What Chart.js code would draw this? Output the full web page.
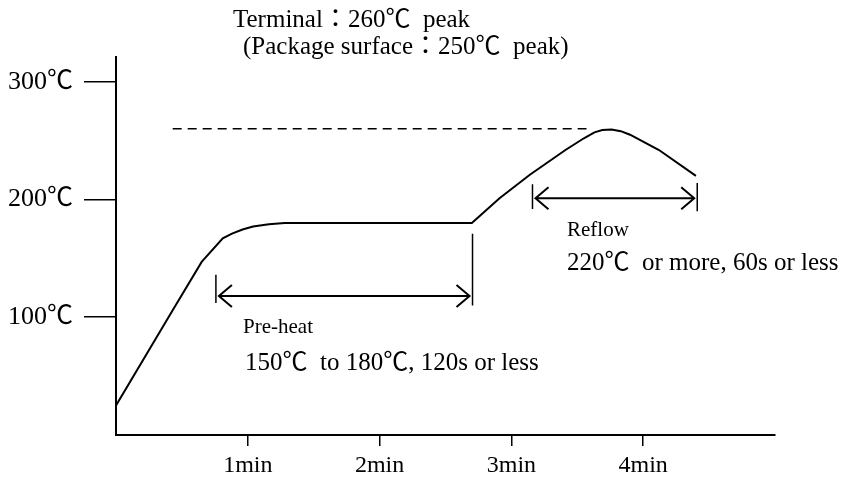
<!DOCTYPE html>
<html>
<head>
<meta charset="utf-8">
<script src="https://cdn.jsdelivr.net/npm/chart.js@4.4.1/dist/chart.umd.min.js"></script>
<style>
  body { margin: 0; background: #fff; }
  canvas { display: block; }
</style>
</head>
<body>
<canvas id="profileChart" width="844" height="497"></canvas>
<script>
// reflow profile, time in minutes, temperature in degrees C
const timeMin = [0, 0.43, 0.65, 0.81, 0.88, 0.96, 1.04, 1.16, 1.28, 2.70, 2.91, 3.14, 3.41, 3.55, 3.63, 3.69, 3.76, 3.83, 3.90, 4.12, 4.40];
const tempC   = [25, 106, 147, 167, 171, 174.5, 177, 179, 180, 180, 201, 221, 242, 252, 257, 259, 259.5, 258, 255, 242, 220];

// dashed peak line
const peakTime = [0.43, 3.57];
const peakTemp = [260, 260];

const xTickValues = [1, 2, 3, 4];
const xTickLabels = ["1min", "2min", "3min", "4min"];
const yTickValues = [100, 200, 300];
const yTickLabels = ["100℃", "200℃", "300℃"];

// arrows: start, end (min), level (C); bars: [top, bottom] (C) at each end
const preheatArrow = [0.758, 2.705, 118];
const preheatBars = [[136, 112], [171, 110]];
const reflowArrow = [3.16, 4.41, 201];
const reflowBars = [[213, 192], [214, 190]];

const serif = '"Liberation Serif", "Noto Sans CJK JP", serif';

function drawArrow(ctx, chart, arrow, bars) {
  const xs = chart.scales.x, ys = chart.scales.y;
  const x1 = xs.getPixelForValue(arrow[0]);
  const x2 = xs.getPixelForValue(arrow[1]);
  const y = ys.getPixelForValue(arrow[2]);
  ctx.save();
  ctx.strokeStyle = "#000";
  ctx.lineWidth = 2;
  ctx.beginPath();
  ctx.moveTo(x1 + 3, y);
  ctx.lineTo(x2 - 3, y);
  // heads
  ctx.moveTo(x1 + 16, y - 11);
  ctx.lineTo(x1 + 3, y);
  ctx.lineTo(x1 + 16, y + 11);
  ctx.moveTo(x2 - 16, y - 11);
  ctx.lineTo(x2 - 3, y);
  ctx.lineTo(x2 - 16, y + 11);
  ctx.stroke();
  ctx.lineWidth = 1.5;
  ctx.beginPath();
  ctx.moveTo(x1, ys.getPixelForValue(bars[0][0]));
  ctx.lineTo(x1, ys.getPixelForValue(bars[0][1]));
  ctx.moveTo(x2, ys.getPixelForValue(bars[1][0]));
  ctx.lineTo(x2, ys.getPixelForValue(bars[1][1]));
  ctx.stroke();
  ctx.restore();
}

const notes = {
  id: "notes",
  afterDatasetsDraw(chart) {
    const ctx = chart.ctx;
    drawArrow(ctx, chart, preheatArrow, preheatBars);
    drawArrow(ctx, chart, reflowArrow, reflowBars);

    ctx.save();
    ctx.fillStyle = "#000";
    ctx.textBaseline = "middle";
    ctx.textAlign = "left";
    ctx.font = "25px " + serif;
    ctx.fillText("Terminal：260℃  peak", 233, 20);
    ctx.fillText("(Package surface：250℃  peak)", 243, 47);
    ctx.font = "21px " + serif;
    ctx.fillText("Pre-heat", 243, 327);
    ctx.fillText("Reflow", 567, 230);
    ctx.font = "25px " + serif;
    ctx.fillText("150℃  to 180℃, 120s or less", 245, 363);
    ctx.fillText("220℃  or more, 60s or less", 567, 263);
    ctx.restore();
  }
};

const ctx = document.getElementById("profileChart").getContext("2d");

new Chart(ctx, {
  type: "line",
  data: {
    datasets: [
      {
        data: timeMin.map((t, i) => ({ x: t, y: tempC[i] })),
        borderColor: "#000",
        borderWidth: 2,
        pointRadius: 0,
        tension: 0,
        fill: false
      },
      {
        data: peakTime.map((t, i) => ({ x: t, y: peakTemp[i] })),
        borderColor: "#000",
        borderWidth: 1.5,
        borderDash: [9, 6],
        pointRadius: 0,
        fill: false
      }
    ]
  },
  options: {
    responsive: false,
    animation: false,
    layout: { padding: { top: 57, right: 69, left: 0, bottom: 0 } },
    plugins: {
      legend: { display: false },
      tooltip: { enabled: false }
    },
    scales: {
      x: {
        type: "linear",
        min: 0,
        max: 5,
        afterBuildTicks: scale => { scale.ticks = xTickValues.map(v => ({ value: v })); },
        afterFit: scale => { scale.height = 62; },
        border: { display: true, color: "#000", width: 2 },
        grid: { drawOnChartArea: false, drawTicks: true, tickLength: 11, color: "#000", lineWidth: 1.5 },
        ticks: {
          autoSkip: false,
          maxRotation: 0,
          padding: 5,
          color: "#000",
          font: { family: serif, size: 24 },
          callback: v => xTickLabels[xTickValues.indexOf(v)]
        }
      },
      y: {
        min: 0,
        max: 321,
        afterBuildTicks: scale => { scale.ticks = yTickValues.map(v => ({ value: v })); },
        afterFit: scale => { scale.width = 116; },
        border: { display: true, color: "#000", width: 2 },
        grid: { drawOnChartArea: false, drawTicks: true, tickLength: 32, color: "#000", lineWidth: 1.5 },
        ticks: {
          autoSkip: false,
          padding: 11,
          color: "#000",
          font: { family: serif, size: 26 },
          callback: v => yTickLabels[yTickValues.indexOf(v)]
        }
      }
    }
  },
  plugins: [notes]
});
</script>
</body>
</html>
